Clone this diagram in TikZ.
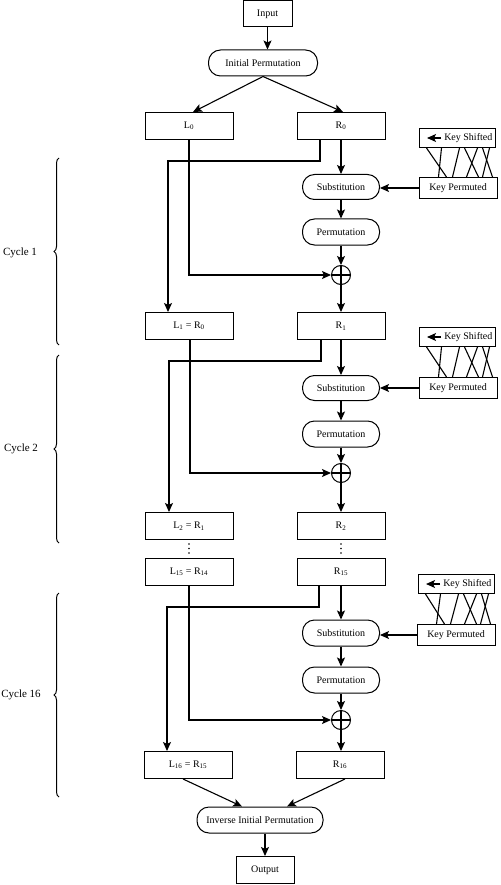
\documentclass[tikz,border=0pt]{standalone}
\usepackage{fontspec}
\setmainfont{Liberation Serif}
\usetikzlibrary{arrows.meta,decorations.pathreplacing,calc}
\begin{document}
\begin{tikzpicture}[x=1pt,y=-1pt,
 every node/.style={font=\fontsize{10}{12}\selectfont, inner sep=0pt},
 sqbox/.style={draw, line width=1pt, minimum width=88pt, minimum height=27pt},
 pill/.style={draw, line width=1pt, rounded corners=12pt, minimum width=77pt, minimum height=25pt},
 ksbox/.style={draw, line width=1pt, minimum width=76pt, minimum height=19pt},
 kpbox/.style={draw, line width=1pt, minimum width=78pt, minimum height=21pt},
 xorc/.style={draw, circle, line width=1pt, minimum size=19pt},
 conn/.style={line width=1.1pt},
 arr/.style={conn, -{Stealth[length=9pt,width=8pt,inset=2pt]}},
 brc/.style={decorate, decoration={brace, amplitude=5pt}, line width=1pt},
 cyc/.style={font=\fontsize{11}{13}\selectfont},
 dotc/.style={circle, fill, inner sep=0pt, minimum size=1.8pt},
]
\useasboundingbox (0,0) rectangle (500,885);

% top
\node[draw, line width=1pt, minimum width=49pt, minimum height=26pt] (in) at (267.5,14) {Input};
\node[pill, minimum width=109pt, minimum height=26pt] (ip) at (263,63) {Initial Permutation};
\node[sqbox] (L0) at (189,126) {L\textsubscript{0}};
\node[sqbox] (R0) at (341,126) {R\textsubscript{0}};
\draw[arr] (in.south) -- (in.south |- ip.north);
\draw[arr] (ip.south) -- ([xshift=4pt]L0.north);
\draw[arr] (ip.south) -- ([xshift=2pt]R0.north);

% ---------- cycle 1 ----------
\node[ksbox] (ks1) at (457,138) {};
\node[anchor=east] (ks1t) at ([xshift=-3pt]ks1.east) {Key Shifted};
\draw[arr] ([xshift=-3pt]ks1t.west) -- ++(-14,0);
\node[kpbox] (kp1) at (458,188) {Key Permuted};
\node[pill] (s1) at (341,187) {Substitution};
\node[pill, minimum height=26pt] (p1) at (341,232) {Permutation};
\node[xorc] (x1) at (341,275) {};
\draw[conn] (x1.north) -- (x1.south) (x1.west) -- (x1.east);
\node[sqbox] (L1) at (189,326) {L\textsubscript{1} = R\textsubscript{0}};
\node[sqbox] (R1) at (341,326) {R\textsubscript{1}};
\draw[arr] (R0.south) -- (s1.north);
\draw[arr] (s1) -- (p1);
\draw[arr] (p1) -- (x1);
\draw[arr] (x1) -- (R1);
\draw[arr] (kp1.west) -- (kp1.west -| s1.east);
\coordinate (t1) at (168,161);
\draw[arr] ([xshift=-21pt]R0.south) |- (t1) -- (t1 |- L1.north);
\draw[arr] (L0.south) |- (x1.west);
\foreach \a/\b in {8/28, 23/20, 41/34, 46/60, 59/48, 64/74, 71/64}
  \draw[conn] ($(ks1.south west)+(\a,0)$) -- ($(kp1.north west)+(\b,0)$);

% ---------- cycle 2 ----------
\node[ksbox] (ks2) at (457,337) {};
\node[anchor=east] (ks2t) at ([xshift=-3pt]ks2.east) {Key Shifted};
\draw[arr] ([xshift=-3pt]ks2t.west) -- ++(-14,0);
\node[kpbox] (kp2) at (458,388) {Key Permuted};
\node[pill] (s2) at (341,388) {Substitution};
\node[pill, minimum height=26pt] (p2) at (341,434) {Permutation};
\node[xorc] (x2) at (341,473) {};
\draw[conn] (x2.north) -- (x2.south) (x2.west) -- (x2.east);
\node[sqbox] (L2) at (189,526) {L\textsubscript{2} = R\textsubscript{1}};
\node[sqbox] (R2) at (341,526) {R\textsubscript{2}};
\draw[arr] (R1.south) -- (s2.north);
\draw[arr] (s2) -- (p2);
\draw[arr] (p2) -- (x2);
\draw[arr] (x2) -- (R2);
\draw[arr] (kp2.west) -- (kp2.west -| s2.east);
\coordinate (t2) at (169,361);
\draw[arr] ([xshift=-20pt]R1.south) |- (t2) -- (t2 |- L2.north);
\draw[arr] ([xshift=1pt]L1.south) |- (x2.west);
\foreach \a/\b in {8/28, 23/20, 41/34, 46/60, 59/48, 64/74, 71/64}
  \draw[conn] ($(ks2.south west)+(\a,0)$) -- ($(kp2.north west)+(\b,0)$);

% dots
\foreach \y [count=\i] in {544,548.5,553} {
  \node[dotc] (dl\i) at (189,\y) {};
  \node[dotc] (dr\i) at (341,\y) {};
}

% ---------- cycle 16 ----------
\node[sqbox] (L15) at (189,572) {L\textsubscript{15} = R\textsubscript{14}};
\node[sqbox] (R15) at (341,572) {R\textsubscript{15}};
\node[ksbox] (ks3) at (456,584) {};
\node[anchor=east] (ks3t) at ([xshift=-3pt]ks3.east) {Key Shifted};
\draw[arr] ([xshift=-3pt]ks3t.west) -- ++(-14,0);
\node[kpbox] (kp3) at (456,635) {Key Permuted};
\node[pill, minimum height=26pt] (s3) at (341,633) {Substitution};
\node[pill, minimum height=26pt] (p3) at (341,680) {Permutation};
\node[xorc] (x3) at (341,720) {};
\draw[conn] (x3.north) -- (x3.south) (x3.west) -- (x3.east);
\node[sqbox] (L16) at (188,765) {L\textsubscript{16} = R\textsubscript{15}};
\node[sqbox] (R16) at (340,765) {R\textsubscript{16}};
\draw[arr] (R15.south) -- (s3.north);
\draw[arr] (s3) -- (p3);
\draw[arr] (p3) -- (x3);
\draw[arr] (x3) -- (x3 |- R16.north);
\draw[arr] (kp3.west) -- (kp3.west -| s3.east);
\coordinate (t3) at (167,607);
\draw[arr] ([xshift=-22pt]R15.south) |- (t3) -- (t3 |- L16.north);
\draw[arr] (L15.south) |- (x3.west);
\foreach \a/\b in {8/28, 23/20, 41/34, 46/60, 59/48, 64/74, 71/64}
  \draw[conn] ($(ks3.south west)+(\a,0)$) -- ($(kp3.north west)+(\b,0)$);

% bottom
\node[pill, minimum width=126pt, minimum height=26pt] (iip) at (260,820) {Inverse Initial Permutation};
\node[draw, line width=1pt, minimum width=58pt, minimum height=27pt] (out) at (265,870) {Output};
\draw[arr] ([xshift=-5pt]L16.south) -- ([xshift=-18pt]iip.north);
\draw[arr] ([xshift=5pt]R16.south) -- ([xshift=27pt]iip.north);
\draw[arr] (out.north |- iip.south) -- (out.north);

% braces
\draw[brc] (59,345) -- (59,158);
\node[cyc] (c1) at (20,253) {Cycle 1};
\draw[brc] (59,543) -- (59,355);
\node[cyc] (c2) at (21,449) {Cycle 2};
\draw[brc] (59,797) -- (59,593);
\node[cyc] (c16) at (21,695) {Cycle 16};
\end{tikzpicture}
\end{document}
